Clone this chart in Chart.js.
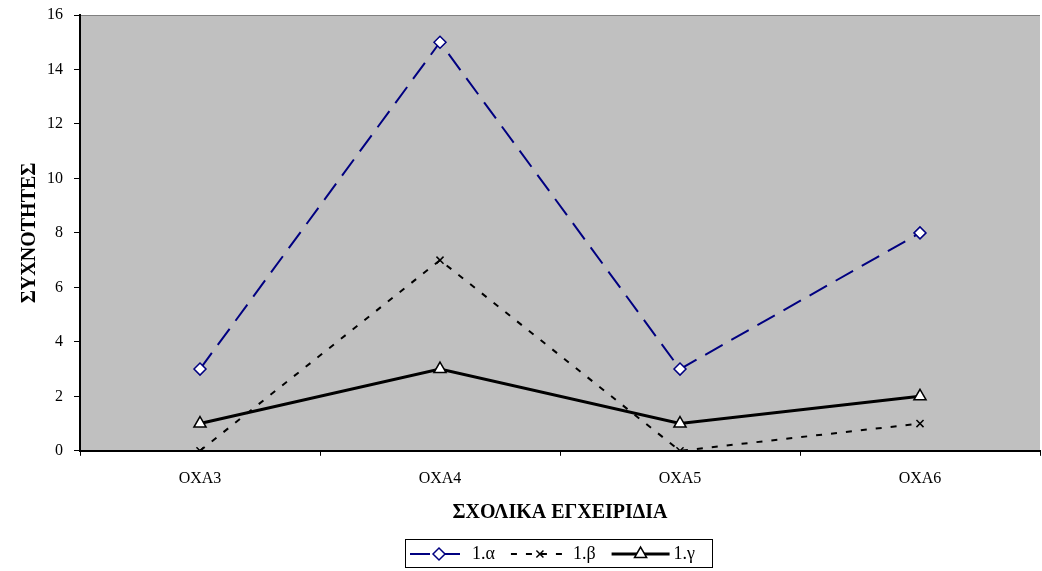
<!DOCTYPE html>
<html>
<head>
<meta charset="utf-8">
<script src="https://cdn.jsdelivr.net/npm/chart.js@4/dist/chart.umd.min.js"></script>
<style>
  html, body { margin: 0; padding: 0; background: #fff; overflow: hidden; }
  #wrap { width: 1042px; height: 571px; }
  canvas { display: block; }
</style>
</head>
<body>
<div id="wrap"><canvas id="chart" width="1042" height="571"></canvas></div>
<script>
const categories = ["OXA3", "OXA4", "OXA5", "OXA6"];
const alphaValues = [3, 15, 3, 8];
const betaValues = [0, 7, 0, 1];
const gammaValues = [1, 3, 1, 2];
const seriesNames = ["1.\u03b1", "1.\u03b2", "1.\u03b3"];

const FONT = "'Liberation Serif', 'DejaVu Serif', serif";

// gray plot area + legend box drawn by hand
const plotBg = {
  id: "plotBg",
  beforeDraw(chart) {
    const { ctx, chartArea: a } = chart;
    ctx.save();
    ctx.fillStyle = "#c0c0c0";
    ctx.fillRect(a.left, a.top, a.right - a.left, a.bottom - a.top);
    ctx.strokeStyle = "#808080";
    ctx.lineWidth = 1;
    ctx.beginPath();
    ctx.moveTo(a.left, a.top + 0.5);
    ctx.lineTo(a.right, a.top + 0.5);
    ctx.stroke();
    ctx.restore();
  },
  afterDraw(chart) {
    const ctx = chart.ctx;
    const x0 = 405, y0 = 539, w = 307, h = 28;
    ctx.save();
    ctx.strokeStyle = "#000";
    ctx.lineWidth = 1;
    ctx.strokeRect(x0 + 0.5, y0 + 0.5, w, h);
    ctx.font = "18px " + FONT;
    ctx.textBaseline = "middle";
    const cy = y0 + h / 2 + 1;
    let x = x0 + 5;
    chart.data.datasets.forEach((ds) => {
      ctx.strokeStyle = ds.borderColor;
      ctx.lineWidth = ds.borderWidth;
      ctx.setLineDash(ds.borderDash || []);
      ctx.beginPath();
      ctx.moveTo(x, cy);
      ctx.lineTo(x + 58, cy);
      ctx.stroke();
      ctx.setLineDash([]);
      ctx.fillStyle = ds.pointBackgroundColor;
      ctx.strokeStyle = ds.pointBorderColor;
      ctx.lineWidth = ds.pointBorderWidth;
      Chart.helpers.drawPoint(ctx, {
        pointStyle: ds.pointStyle,
        radius: ds.pointRadius,
        borderWidth: ds.pointBorderWidth,
        rotation: 0
      }, x + 29, cy);
      ctx.fillStyle = "#000";
      ctx.fillText(ds.label, x + 62, cy);
      x += 62 + ctx.measureText(ds.label).width + 16;
    });
    ctx.restore();
  }
};

new Chart(document.getElementById("chart"), {
  type: "line",
  data: {
    labels: categories,
    datasets: [
      {
        label: seriesNames[0],
        data: alphaValues,
        borderColor: "#000080",
        borderWidth: 2,
        borderDash: [20, 10],
        pointStyle: "rectRot",
        pointRadius: 6,
        pointBorderWidth: 1.5,
        pointBackgroundColor: "#ffffff",
        pointBorderColor: "#000080",
        tension: 0
      },
      {
        label: seriesNames[1],
        data: betaValues,
        borderColor: "#000000",
        borderWidth: 2,
        borderDash: [6, 9],
        pointStyle: "crossRot",
        pointRadius: 5,
        pointBorderWidth: 1.5,
        pointBackgroundColor: "#000000",
        pointBorderColor: "#000000",
        tension: 0
      },
      {
        label: seriesNames[2],
        data: gammaValues,
        borderColor: "#000000",
        borderWidth: 3,
        pointStyle: "triangle",
        pointRadius: 7,
        pointBorderWidth: 1.5,
        pointBackgroundColor: "#ffffff",
        pointBorderColor: "#000000",
        tension: 0
      }
    ]
  },
  options: {
    responsive: false,
    animation: false,
    layout: { autoPadding: false, padding: { top: 15, right: 2, bottom: 46, left: 18 } },
    plugins: {
      legend: { display: false },
      tooltip: { enabled: false }
    },
    scales: {
      x: {
        offset: true,
        grid: {
          offset: true,
          drawOnChartArea: false,
          color: "#000",
          tickLength: 5
        },
        border: { color: "#000", width: 2 },
        ticks: {
          color: "#000",
          font: { family: FONT, size: 16 },
          padding: 13
        },
        title: {
          display: true,
          text: "\u03a3\u03a7\u039f\u039b\u0399\u039a\u0391 \u0395\u0393\u03a7\u0395\u0399\u03a1\u0399\u0394\u0399\u0391",
          color: "#000",
          font: { family: FONT, size: 20, weight: "bold" },
          padding: { top: 0, bottom: 0 }
        }
      },
      y: {
        min: 0,
        max: 16,
        afterFit: (scale) => {
          scale.paddingTop = 10;
          scale.paddingBottom = 10;
          scale.width -= 6;
        },
        ticks: {
          stepSize: 2,
          color: "#000",
          font: { family: FONT, size: 16 },
          padding: 11
        },
        grid: {
          drawOnChartArea: false,
          color: "#000",
          tickLength: 6
        },
        border: { color: "#000", width: 2 },
        title: {
          display: true,
          text: "\u03a3\u03a5\u03a7\u039d\u039f\u03a4\u0397\u03a4\u0395\u03a3",
          color: "#000",
          font: { family: FONT, size: 20, weight: "bold" },
          padding: { top: 0, bottom: 0 }
        }
      }
    }
  },
  plugins: [plotBg]
});
</script>
</body>
</html>
